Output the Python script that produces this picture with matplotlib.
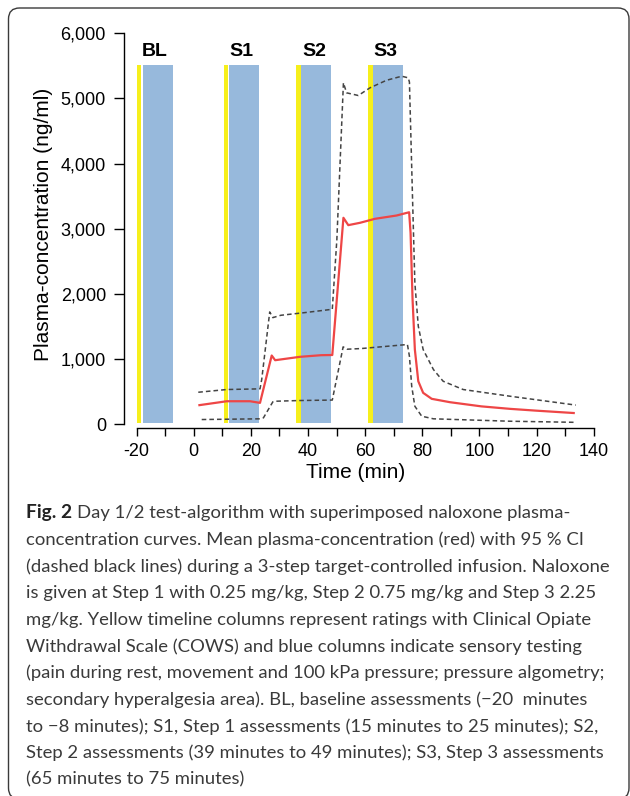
import numpy as np
import matplotlib
matplotlib.use("Agg")
import matplotlib.pyplot as plt
from matplotlib.patches import FancyBboxPatch
from matplotlib.transforms import IdentityTransform

# assessment columns (min)
step_names = ['BL', 'S1', 'S2', 'S3']
yellow_start = [-19.7, 10.7, 35.9, 61.0]
yellow_end = [-18.3, 12.1, 37.4, 62.6]
blue_start = [-17.8, 12.5, 37.7, 62.8]
blue_end = [-7.3, 23.0, 48.2, 73.3]
col_bottom = 20
col_top = 5520

# mean plasma-concentration (red)
t_mean = [2.0, 11.6, 19.7, 23.2, 27.3, 28.5, 37.2, 44.6, 48.5, 52.4, 54.1, 58.2, 63.4, 71.0, 75.4,
          75.9, 76.6, 77.4, 78.6, 80.3, 83.3, 89.7, 100.7, 110.7, 120.0, 133.0]
c_mean = [290, 350, 350, 325, 1052, 980, 1032, 1057, 1060, 3167, 3054, 3090, 3151, 3202, 3252,
          2936, 1912, 1144, 657, 479, 387, 335, 271, 233, 205, 169]

# upper 95% CI
t_up = [1.6, 11.6, 23.2, 23.8, 26.6, 27.7, 30.5, 38.9, 48.5, 50.1, 52.4, 53.5, 57.6, 61.7, 67.5, 72.8, 75.1,
        75.5, 76.6, 77.4, 78.6, 80.3, 83.9, 87.3, 94.3, 110.7, 133.7]
c_up = [488, 530, 540, 683, 1721, 1634, 1670, 1711, 1762, 2833, 5240, 5086, 5045, 5163, 5279, 5341, 5316,
        5250, 3447, 2168, 1502, 1144, 837, 657, 530, 427, 291]

# lower 95% CI
t_low = [2.8, 23.2, 24.4, 27.7, 28.5, 37.2, 48.5, 52.3, 53.7, 58.6, 74.8,
         75.5, 76.3, 77.4, 79.8, 83.9, 110.7, 133.7]
c_low = [69, 80, 95, 341, 350, 361, 368, 1185, 1149, 1159, 1221,
         1041, 580, 273, 120, 80, 43, 26]

caption_lines = [
    "Day 1/2 test-algorithm with superimposed naloxone plasma-",
    "concentration curves. Mean plasma-concentration (red) with 95 % CI",
    "(dashed black lines) during a 3-step target-controlled infusion. Naloxone",
    "is given at Step 1 with 0.25 mg/kg, Step 2 0.75 mg/kg and Step 3 2.25",
    "mg/kg. Yellow timeline columns represent ratings with Clinical Opiate",
    "Withdrawal Scale (COWS) and blue columns indicate sensory testing",
    "(pain during rest, movement and 100 kPa pressure; pressure algometry;",
    "secondary hyperalgesia area). BL, baseline assessments (\u221220  minutes",
    "to \u22128 minutes); S1, Step 1 assessments (15 minutes to 25 minutes); S2,",
    "Step 2 assessments (39 minutes to 49 minutes); S3, Step 3 assessments",
    "(65 minutes to 75 minutes)",
]

W, H = 630, 796
plt.rcParams['font.family'] = ['Liberation Sans', 'DejaVu Sans']
fig = plt.figure(figsize=(W / 100, H / 100), dpi=100)
ax = fig.add_axes([124 / W, 1 - 428 / H, 476 / W, (428 - 29.4) / H])

for i in range(len(step_names)):
    ax.bar(yellow_start[i], col_top - col_bottom, width=yellow_end[i] - yellow_start[i],
           bottom=col_bottom, align='edge', color='#f6ef1c', lw=0, zorder=1)
    ax.bar(blue_start[i], col_top - col_bottom, width=blue_end[i] - blue_start[i],
           bottom=col_bottom, align='edge', color='#97b9dc', lw=0, zorder=1)
    ax.text((yellow_start[i] + blue_end[i]) / 2, 5725, step_names[i], ha='center', va='center',
            fontsize=14, fontweight='bold')

ax.plot(t_up, c_up, color='#444444', lw=1.1, dashes=(3, 2), zorder=3)
ax.plot(t_low, c_low, color='#444444', lw=1.1, dashes=(3, 2), zorder=3)
ax.plot(t_mean, c_mean, color='#ee4646', lw=1.6, zorder=4)

ax.set_xlim(-24.4, 142.2)
ax.set_ylim(-61, 6060)
for s in ['top', 'right']:
    ax.spines[s].set_visible(False)
ax.spines['left'].set_bounds(0, 6000)
ax.spines['bottom'].set_bounds(-20, 140)
for s in ['left', 'bottom']:
    ax.spines[s].set_linewidth(1.0)

xt = np.arange(-20, 141, 10)
ax.set_xticks(xt)
ax.set_xticklabels([str(v) if v % 20 == 0 else '' for v in xt])
yt = np.arange(0, 6001, 1000)
ax.set_yticks(yt)
ax.set_yticklabels(['{:,}'.format(v) for v in yt])
ax.tick_params(axis='y', length=7.5, width=1.0, pad=5.5, labelsize=13)
ax.tick_params(axis='x', length=6, width=1.0, pad=5, labelsize=13)

fig.text(44 / W, 1 - 224.5 / H, 'Plasma-concentration (ng/ml)', rotation=90,
         ha='center', va='center', fontsize=15)
fig.text(356 / W, 1 - 472 / H, 'Time (min)', ha='center', va='center', fontsize=15)

# caption
cap_size = 13.3
renderer = fig.canvas.get_renderer()
x0 = 25.5
for k, line in enumerate(caption_lines):
    yb = 1 - (518.3 + 26.66 * k) / H
    if k == 0:
        t = fig.text(x0 / W, yb, 'Fig. 2', ha='left', va='baseline', fontsize=13.8,
                     fontweight='bold', family=['Lato', 'DejaVu Sans'], color='#222222')
        bb = t.get_window_extent(renderer)
        fig.text((bb.x1 + 5.5) / W, yb, line, ha='left', va='baseline', fontsize=cap_size,
                 family=['Lato', 'DejaVu Sans'], color='#3a3a3a')
    else:
        fig.text(x0 / W, yb, line, ha='left', va='baseline', fontsize=cap_size,
                 family=['Lato', 'DejaVu Sans'], color='#3a3a3a')

box = FancyBboxPatch((8.5, -3), 620.5, 796 - 8 + 3, boxstyle='round,pad=0,rounding_size=11',
                     transform=IdentityTransform(), fill=False, ec='#3a3a3a', lw=1.0)
fig.patches.append(box)

fig.savefig('out.png', dpi=100)
